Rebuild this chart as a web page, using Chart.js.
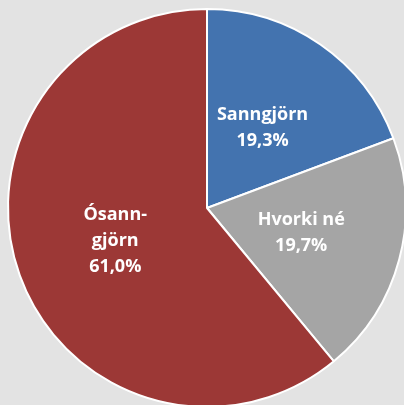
<!DOCTYPE html>
<html>
<head>
<meta charset="utf-8">
<script src="https://cdn.jsdelivr.net/npm/chart.js@4.4.1/dist/chart.umd.min.js"></script>
<style>
  html, body { margin: 0; padding: 0; background: #e3e3e3; overflow: hidden; }
  #wrap { position: absolute; left: 0; top: 0; width: 414px; height: 416px; }
</style>
</head>
<body>
<div id="wrap"><canvas id="chart"></canvas></div>
<script>
const categories = ['Sanngjörn', 'Hvorki né', 'Ósanngjörn'];
const labelLines = [['Sanngjörn'], ['Hvorki né'], ['Ósann-', 'gjörn']];
const shares = [19.3, 19.7, 61.0];
const sliceColors = ['#4373af', '#a5a5a5', '#9c3836'];

// draws the name + percentage inside each slice
const sliceLabels = {
  id: 'sliceLabels',
  afterDatasetsDraw(chart) {
    const ctx = chart.ctx;
    const meta = chart.getDatasetMeta(0);
    ctx.save();
    ctx.fillStyle = '#ffffff';
    ctx.font = 'bold 18px "Open Sans", sans-serif';
    ctx.textAlign = 'center';
    ctx.textBaseline = 'middle';
    meta.data.forEach((arc, i) => {
      const { x, y, startAngle, endAngle, outerRadius } = arc.getProps(['x', 'y', 'startAngle', 'endAngle', 'outerRadius'], true);
      const mid = (startAngle + endAngle) / 2;
      const r = outerRadius * 0.49;
      const cx = x + Math.cos(mid) * r;
      const cy = y + Math.sin(mid) * r;
      const lines = labelLines[i].concat([shares[i].toFixed(1).replace('.', ',') + '%']);
      const lh = 26;
      const top = cy - (lines.length - 1) * lh / 2;
      lines.forEach((t, k) => ctx.fillText(t, cx, top + k * lh));
    });
    ctx.restore();
  }
};

new Chart(document.getElementById('chart').getContext('2d'), {
  type: 'pie',
  data: {
    labels: categories,
    datasets: [{
      data: shares,
      backgroundColor: sliceColors,
      borderColor: '#ffffff',
      borderWidth: 2,
    }],
  },
  options: {
    responsive: true,
    maintainAspectRatio: false,
    animation: false,
    layout: { padding: { left: 7, right: 7, top: 8, bottom: 8 } },
    plugins: {
      legend: { display: false },
      tooltip: { enabled: false },
    },
  },
  plugins: [sliceLabels],
});
</script>
</body>
</html>
